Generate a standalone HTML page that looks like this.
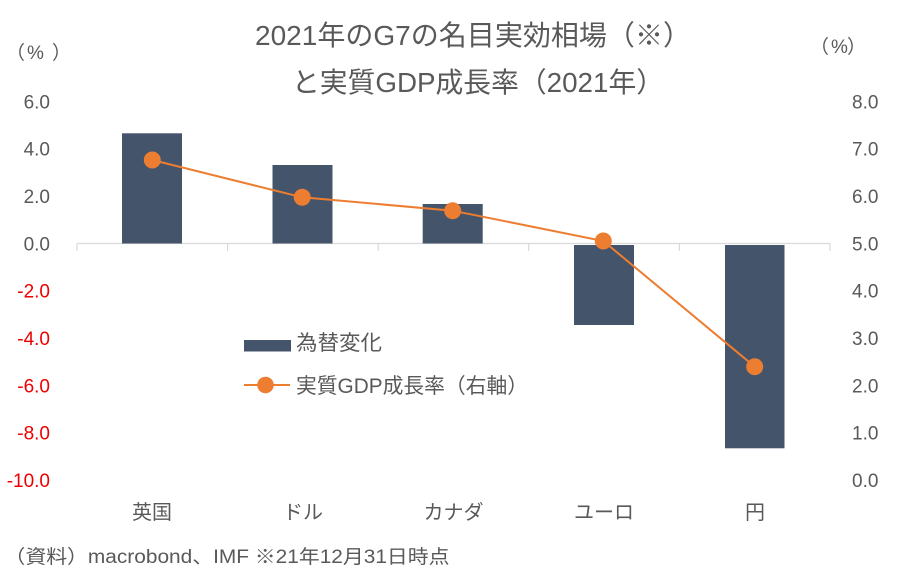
<!DOCTYPE html>
<html><head><meta charset="utf-8"><style>
html,body{margin:0;padding:0;background:#fff;}
svg{display:block;}
text{font-family:"Liberation Sans","Noto Sans CJK JP",sans-serif;fill:#595959;}
</style></head><body>
<svg width="900" height="583" viewBox="0 0 900 583" xmlns="http://www.w3.org/2000/svg">
<rect width="900" height="583" fill="#fff"/>
<!-- Title -->
<text x="255" y="45" font-size="28" textLength="436" lengthAdjust="spacingAndGlyphs">2021年のG7の名目実効相場（※）</text>
<text x="292" y="92" font-size="28" textLength="372" lengthAdjust="spacingAndGlyphs">と実質GDP成長率（2021年）</text>
<!-- unit labels -->
<text x="6" y="59" font-size="19">（</text>
<text x="27" y="59" font-size="19">%</text>
<text x="52" y="59" font-size="19">）</text>
<text x="810" y="53" font-size="19">（</text>
<text x="831" y="53" font-size="19">%</text>
<text x="847" y="53" font-size="19">）</text>
<!-- left ticks -->
<g font-size="19" text-anchor="end">
<text x="50" y="108.4">6.0</text>
<text x="50" y="155.7">4.0</text>
<text x="50" y="203.1">2.0</text>
<text x="50" y="250.4">0.0</text>
<text x="50" y="297.7" style="fill:#EE0000">-2.0</text>
<text x="50" y="345.1" style="fill:#EE0000">-4.0</text>
<text x="50" y="392.4" style="fill:#EE0000">-6.0</text>
<text x="50" y="439.7" style="fill:#EE0000">-8.0</text>
<text x="50" y="487.1" style="fill:#EE0000">-10.0</text>
</g>
<!-- right ticks -->
<g font-size="19">
<text x="852" y="108.4">8.0</text>
<text x="852" y="155.7">7.0</text>
<text x="852" y="203.1">6.0</text>
<text x="852" y="250.4">5.0</text>
<text x="852" y="297.7">4.0</text>
<text x="852" y="345.1">3.0</text>
<text x="852" y="392.4">2.0</text>
<text x="852" y="439.7">1.0</text>
<text x="852" y="487.1">0.0</text>
</g>
<!-- axis -->
<line x1="77" y1="243.5" x2="830" y2="243.5" stroke="#D9D9D9" stroke-width="1.2"/>
<g stroke="#D9D9D9" stroke-width="1.2">
<line x1="77" y1="243.5" x2="77" y2="251"/>
<line x1="227.6" y1="243.5" x2="227.6" y2="251"/>
<line x1="378.2" y1="243.5" x2="378.2" y2="251"/>
<line x1="528.8" y1="243.5" x2="528.8" y2="251"/>
<line x1="679.4" y1="243.5" x2="679.4" y2="251"/>
<line x1="830" y1="243.5" x2="830" y2="251"/>
</g>
<!-- bars -->
<g fill="#44546A">
<rect x="122" y="133.3" width="60" height="110.2"/>
<rect x="272.5" y="165" width="60" height="78.5"/>
<rect x="422.7" y="204" width="60" height="39.5"/>
<rect x="574" y="245" width="60" height="80"/>
<rect x="725" y="245" width="59.5" height="203.3"/>
</g>
<!-- line -->
<polyline points="152.3,160 302.2,197.3 452.7,210.7 603.3,241 754.7,366.7" fill="none" stroke="#ED7D31" stroke-width="2"/>
<g fill="#ED7D31">
<circle cx="152.3" cy="160" r="8.5"/>
<circle cx="302.2" cy="197.3" r="8.5"/>
<circle cx="452.7" cy="210.7" r="8.5"/>
<circle cx="603.3" cy="241" r="8.5"/>
<circle cx="754.7" cy="366.7" r="8.5"/>
</g>
<!-- category labels -->
<g font-size="20" text-anchor="middle">
<text x="152" y="519">英国</text>
<text x="303" y="519">ドル</text>
<text x="453.5" y="519">カナダ</text>
<text x="604" y="519">ユーロ</text>
<text x="755" y="519">円</text>
</g>
<!-- legend -->
<rect x="244" y="340" width="47" height="11.5" fill="#44546A"/>
<text x="296" y="350" font-size="21" textLength="86" lengthAdjust="spacingAndGlyphs">為替変化</text>
<line x1="244" y1="385" x2="290" y2="385" stroke="#ED7D31" stroke-width="2"/>
<circle cx="265.5" cy="385" r="8.3" fill="#ED7D31"/>
<text x="296" y="393" font-size="21" textLength="232" lengthAdjust="spacingAndGlyphs">実質GDP成長率（右軸）</text>
<!-- footnote -->
<text x="4.5" y="563" font-size="19" textLength="445" lengthAdjust="spacingAndGlyphs">（資料）macrobond、IMF ※21年12月31日時点</text>
</svg>
</body></html>
